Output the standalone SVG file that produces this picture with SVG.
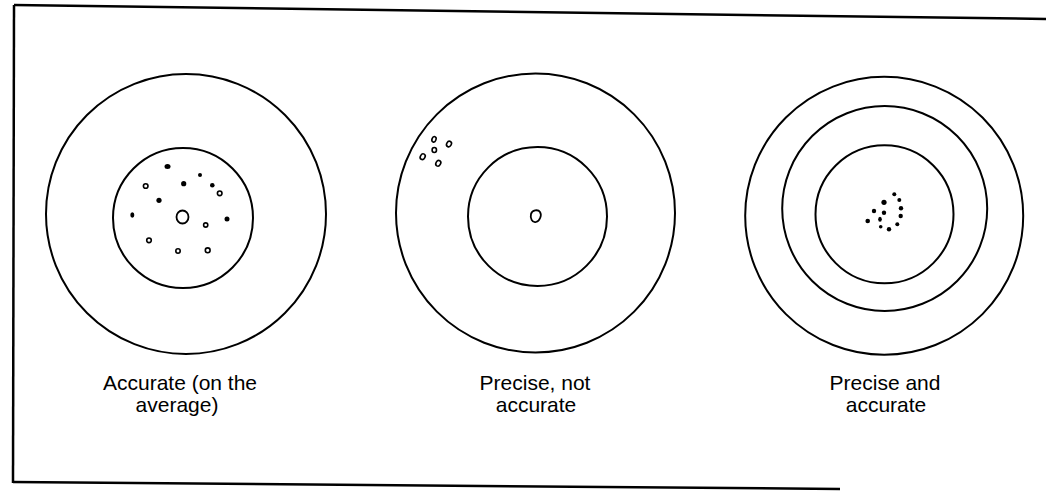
<svg xmlns="http://www.w3.org/2000/svg" width="1046" height="491" viewBox="0 0 1046 491">
<style>
.ring{fill:none;stroke:#000;stroke-width:2}
.hole{fill:none;stroke:#000;stroke-width:1.8}
.open{fill:none;stroke:#000;stroke-width:1.6}
.dot{fill:#000}
.lbl{font-family:"Liberation Sans",Arial,sans-serif;font-size:21px;fill:#000;text-anchor:middle}
.frame{fill:none;stroke:#000;stroke-width:2.5}
</style>
<rect width="1046" height="491" fill="#fff"/>
<g id="frame">
<path class="frame" d="M14,5 L1046,19"/>
<path class="frame" d="M14,5 L13,483"/>
<path class="frame" d="M13,482 L840,489"/>
</g>
<g id="target-accurate">
<circle class="ring" cx="186" cy="214" r="140"/>
<circle class="ring" cx="183" cy="218" r="70"/>
<ellipse class="hole" cx="182.5" cy="217" rx="6" ry="6.5"/>
<ellipse class="dot" cx="167.5" cy="166.5" rx="3" ry="2.5"/>
<circle class="dot" cx="200" cy="175" r="2"/>
<circle class="open" cx="145.7" cy="186" r="2.3"/>
<circle class="dot" cx="183.7" cy="183.7" r="2.6"/>
<circle class="dot" cx="212.3" cy="185.3" r="2.3"/>
<circle class="open" cx="219.7" cy="193.3" r="2.3"/>
<circle class="dot" cx="159" cy="200.3" r="2.6"/>
<ellipse class="dot" cx="132.3" cy="215" rx="2" ry="2.7"/>
<circle class="dot" cx="227" cy="219" r="2.5"/>
<circle class="open" cx="205.7" cy="225" r="2.1"/>
<circle class="open" cx="149" cy="240.3" r="2.3"/>
<circle class="open" cx="178" cy="251" r="2.2"/>
<circle class="open" cx="207.7" cy="250.3" r="2.4"/>
</g>
<g id="target-precise">
<circle class="ring" cx="535.5" cy="213" r="139.5"/>
<circle class="ring" cx="537.5" cy="216.5" r="69.5"/>
<path class="hole" d="M531,214 C532,210 538,209 540,212 C542,215 540,221 536,222 C532,223 530,218 531,214 Z"/>
<ellipse class="open" cx="434" cy="139.3" rx="2" ry="2.8" transform="rotate(20 434 139.3)"/>
<ellipse class="open" cx="449" cy="144" rx="2.3" ry="2.9" transform="rotate(30 449 144)"/>
<ellipse class="open" cx="434.3" cy="150" rx="2.2" ry="2.5"/>
<ellipse class="open" cx="422.7" cy="156.7" rx="2.3" ry="3" transform="rotate(30 422.7 156.7)"/>
<ellipse class="open" cx="438.3" cy="163.3" rx="2.3" ry="3" transform="rotate(30 438.3 163.3)"/>
</g>
<g id="target-precise-accurate">
<circle class="ring" cx="884.2" cy="215.8" r="139"/>
<circle class="ring" cx="884.7" cy="208.5" r="102.5"/>
<circle class="ring" cx="884.5" cy="214.3" r="69"/>
<circle class="dot" cx="894.3" cy="194.3" r="2"/>
<circle class="dot" cx="899.3" cy="200" r="2"/>
<circle class="dot" cx="884" cy="202.3" r="2.6"/>
<circle class="dot" cx="901" cy="208.3" r="2.2"/>
<circle class="dot" cx="874" cy="211" r="2.2"/>
<circle class="dot" cx="884" cy="212.7" r="2.2"/>
<circle class="dot" cx="900.7" cy="216" r="2.2"/>
<ellipse class="dot" cx="880" cy="219.3" rx="1.8" ry="2.5"/>
<circle class="dot" cx="867.7" cy="221" r="2.3"/>
<circle class="dot" cx="897.3" cy="224.3" r="2"/>
<circle class="dot" cx="880.7" cy="226.7" r="1.8"/>
<circle class="dot" cx="889" cy="229.3" r="2.2"/>
</g>
<g id="labels">
<text class="lbl" x="180" y="390">Accurate (on the</text>
<text class="lbl" x="177" y="412">average)</text>
<text class="lbl" x="535" y="390">Precise, not</text>
<text class="lbl" x="536" y="412">accurate</text>
<text class="lbl" x="885" y="390">Precise and</text>
<text class="lbl" x="886" y="412">accurate</text>
</g>
</svg>
